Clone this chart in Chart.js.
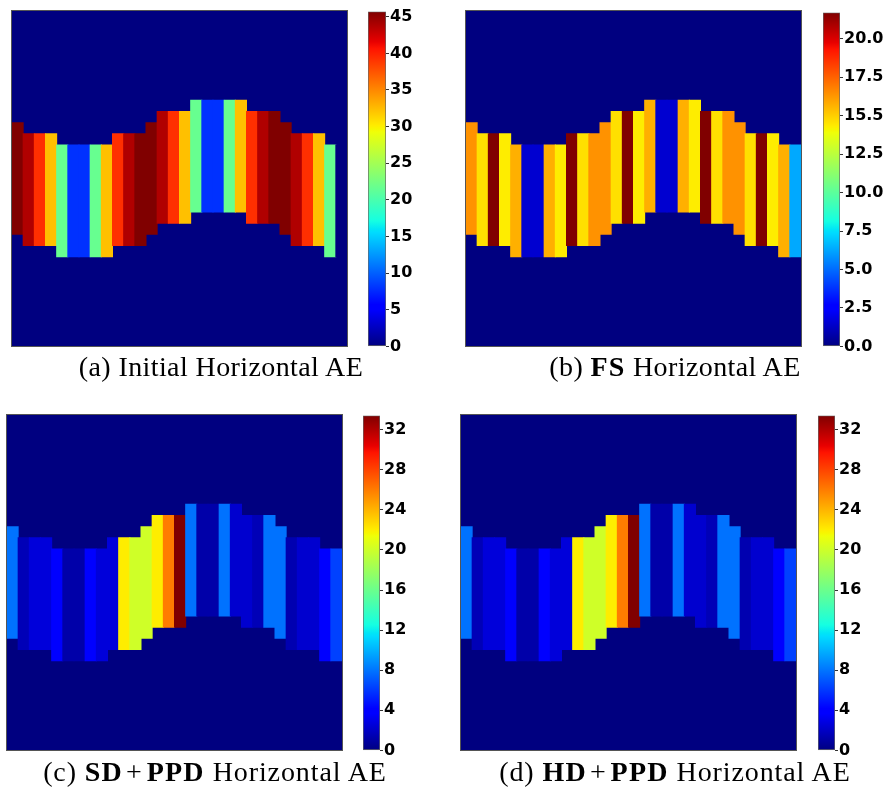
<!DOCTYPE html>
<html>
<head>
<meta charset="utf-8">
<script src="https://cdn.jsdelivr.net/npm/chart.js@4.4.1/dist/chart.umd.min.js"></script>
<style>
  html, body { margin: 0; padding: 0; background: #fff; }
  body { width: 888px; height: 787px; position: relative; overflow: hidden; }
  .panel { position: absolute; box-sizing: border-box; border: 1px solid #555; width: 337px; height: 337px; background: #000080; }
  canvas { display: block; }
  .cbar { position: absolute; }
  .caption { position: absolute; width: 440px; margin-left: -220px; text-align: center;
    font-family: 'Liberation Serif', serif; font-size: 28px; line-height: 30px;
    letter-spacing: 0.4px; color: #000; white-space: nowrap; }
  .caption.wide { letter-spacing: 0.9px; }
  .caption b { letter-spacing: 1.2px; }
  .caption .op { margin: 0 4px 0 3px; }
</style>
</head>
<body>
<div class="panel" style="left:11px;top:10px"><canvas id="heatA" width="335" height="335"></canvas></div>
<div class="panel" style="left:465px;top:10px"><canvas id="heatB" width="335" height="335"></canvas></div>
<div class="panel" style="left:6px;top:414px"><canvas id="heatC" width="335" height="335"></canvas></div>
<div class="panel" style="left:460px;top:414px"><canvas id="heatD" width="335" height="335"></canvas></div>

<canvas class="cbar" id="barA" width="68" height="356" style="left:368px;top:1px"></canvas>
<canvas class="cbar" id="barB" width="67" height="355" style="left:823px;top:2px"></canvas>
<canvas class="cbar" id="barC" width="67" height="356" style="left:363px;top:405px"></canvas>
<canvas class="cbar" id="barD" width="67" height="356" style="left:818px;top:405px"></canvas>

<div class="caption" style="left:221px;top:352px">(a) Initial Horizontal AE</div>
<div class="caption" style="left:675px;top:352px">(b) <b>FS</b> Horizontal AE</div>
<div class="caption wide" style="left:215px;top:757px">(c) <b>SD</b><span class="op">+</span><b>PPD</b> Horizontal AE</div>
<div class="caption wide" style="left:675px;top:757px">(d) <b>HD</b><span class="op">+</span><b>PPD</b> Horizontal AE</div>

<script>
'use strict';

// 30 x 30 grid, the domain is a 10-row band that follows a wave
var gridRows = 30;
var bandRows = 10;
var columns = ['0','1','2','3','4','5','6','7','8','9','10','11','12','13','14',
  '15','16','17','18','19','20','21','22','23','24','25','26','27','28','29'];
var bandTop = [10, 11, 11, 11, 12, 12, 12, 12, 12, 11, 11, 11, 10, 9, 9,
  9, 8, 8, 8, 8, 8, 9, 9, 9, 10, 11, 11, 11, 12, 12];

var initialAE = [45.7, 43.8, 39.3, 32.3, 21.7, 7.9, 7.9, 21.7, 32.3, 39.3, 43.8, 45.7, 45.7, 43.8, 39.3,
  32.3, 21.7, 7.9, 7.9, 21.7, 32.3, 39.3, 43.8, 45.7, 45.7, 43.8, 39.3, 32.3, 21.7, 0];
var fsAE = [16.4, 14.6, 21.7, 14.3, 15.7, 1.5, 1.5, 15.7, 14.3, 21.7, 14.6, 16.4, 16.4, 14.6, 21.7,
  14.3, 15.7, 1.5, 1.5, 15.7, 14.3, 21.7, 14.6, 16.4, 16.4, 14.6, 21.7, 14.3, 15.7, 6.3];
var sdPpdAE = [7.9, 1.6, 2.6, 2.6, 4.0, 1.2, 1.2, 4.0, 2.6, 2.6, 22.0, 20.1, 20.1, 22.0, 26.0,
  33.4, 7.9, 1.2, 1.2, 7.9, 2.3, 2.3, 1.6, 7.9, 7.9, 1.4, 2.3, 2.3, 4.0, 6.3];
var hdPpdAE = [7.9, 1.6, 2.6, 2.6, 4.0, 1.2, 1.2, 4.0, 2.6, 2.6, 22.0, 20.1, 20.1, 22.0, 26.0,
  33.4, 7.9, 1.2, 1.2, 7.9, 2.3, 2.3, 1.6, 7.9, 7.9, 1.4, 2.3, 2.3, 4.0, 6.3];

var ticksA = [0, 5, 10, 15, 20, 25, 30, 35, 40, 45];
var labelsA = ['0', '5', '10', '15', '20', '25', '30', '35', '40', '45'];
var ticksB = [0, 2.5, 5, 7.5, 10, 12.5, 15, 17.5, 20];
var labelsB = ['0.0', '2.5', '5.0', '7.5', '10.0', '12.5', '15.5', '17.5', '20.0'];
var ticksCD = [0, 4, 8, 12, 16, 20, 24, 28, 32];
var labelsCD = ['0', '4', '8', '12', '16', '20', '24', '28', '32'];

// matplotlib "jet" segment data
var jetR = [[0, 0], [0.35, 0], [0.66, 1], [0.89, 1], [1, 0.5]];
var jetG = [[0, 0], [0.125, 0], [0.375, 1], [0.64, 1], [0.91, 0], [1, 0]];
var jetB = [[0, 0.5], [0.11, 1], [0.34, 1], [0.65, 0], [1, 0]];
var jetStops = [0, 0.11, 0.125, 0.34, 0.35, 0.375, 0.64, 0.65, 0.66, 0.89, 0.91, 1];

function channel(pts, f) {
  for (var i = 1; i < pts.length; i++) {
    if (f <= pts[i][0]) {
      var t = (f - pts[i - 1][0]) / (pts[i][0] - pts[i - 1][0]);
      return pts[i - 1][1] + t * (pts[i][1] - pts[i - 1][1]);
    }
  }
  return pts[pts.length - 1][1];
}

function jet(f) {
  f = Math.max(0, Math.min(1, f));
  return 'rgb(' + Math.round(255 * channel(jetR, f)) + ',' +
    Math.round(255 * channel(jetG, f)) + ',' +
    Math.round(255 * channel(jetB, f)) + ')';
}

function heatmap(canvasId, values, vmax) {
  var ctx = document.getElementById(canvasId);
  new Chart(ctx, {
    type: 'bar',
    data: {
      labels: columns,
      datasets: [{
        label: 'domain',
        data: bandTop.map(function(r) { return [r, r + bandRows]; }),
        backgroundColor: values.map(function(v) { return jet(v / vmax); }),
        borderWidth: 0,
        inflateAmount: 0.5,
        grouped: false,
        barPercentage: 1,
        categoryPercentage: 1,
        order: 0
      }, {
        label: 'outside',
        data: columns.map(function() { return [0, gridRows]; }),
        backgroundColor: jet(0),
        borderWidth: 0,
        inflateAmount: 0.5,
        grouped: false,
        barPercentage: 1,
        categoryPercentage: 1,
        order: 1
      }]
    },
    options: {
      responsive: false,
      animation: false,
      layout: { padding: 0 },
      plugins: { legend: { display: false }, tooltip: { enabled: false } },
      scales: {
        x: { display: false },
        y: { display: false, min: 0, max: gridRows, reverse: true }
      }
    }
  });
}

function colorbar(canvasId, vmax, ticks, labels) {
  var ctx = document.getElementById(canvasId);
  new Chart(ctx, {
    type: 'bar',
    data: {
      labels: [''],
      datasets: [{
        data: [[0, vmax]],
        backgroundColor: function(c) {
          var area = c.chart.chartArea;
          if (!area) return jet(0);
          var g = c.chart.ctx.createLinearGradient(0, area.bottom, 0, area.top);
          jetStops.forEach(function(s) { g.addColorStop(s, jet(s)); });
          return g;
        },
        borderColor: '#666',
        borderWidth: 1,
        borderSkipped: false,
        barPercentage: 1,
        categoryPercentage: 1
      }]
    },
    options: {
      responsive: false,
      animation: false,
      layout: { padding: { top: 10, bottom: 10, left: 0, right: 0 } },
      plugins: { legend: { display: false }, tooltip: { enabled: false } },
      scales: {
        x: { display: false },
        y: {
          position: 'right',
          min: 0,
          max: vmax,
          afterBuildTicks: function(scale) {
            scale.ticks = ticks.map(function(v) { return { value: v }; });
          },
          afterFit: function(scale) { scale.width = 50; },
          border: { display: false },
          grid: { drawOnChartArea: false, tickLength: 3, color: '#333' },
          ticks: {
            color: '#000',
            padding: 1,
            font: { family: 'DejaVu Sans', weight: 'bold', size: 16 },
            callback: function(v, i) { return labels[i]; }
          }
        }
      }
    }
  });
}

heatmap('heatA', initialAE, 45.7);
heatmap('heatB', fsAE, 21.7);
heatmap('heatC', sdPpdAE, 33.4);
heatmap('heatD', hdPpdAE, 33.4);

colorbar('barA', 45.7, ticksA, labelsA);
colorbar('barB', 21.7, ticksB, labelsB);
colorbar('barC', 33.4, ticksCD, labelsCD);
colorbar('barD', 33.4, ticksCD, labelsCD);
</script>
</body>
</html>
